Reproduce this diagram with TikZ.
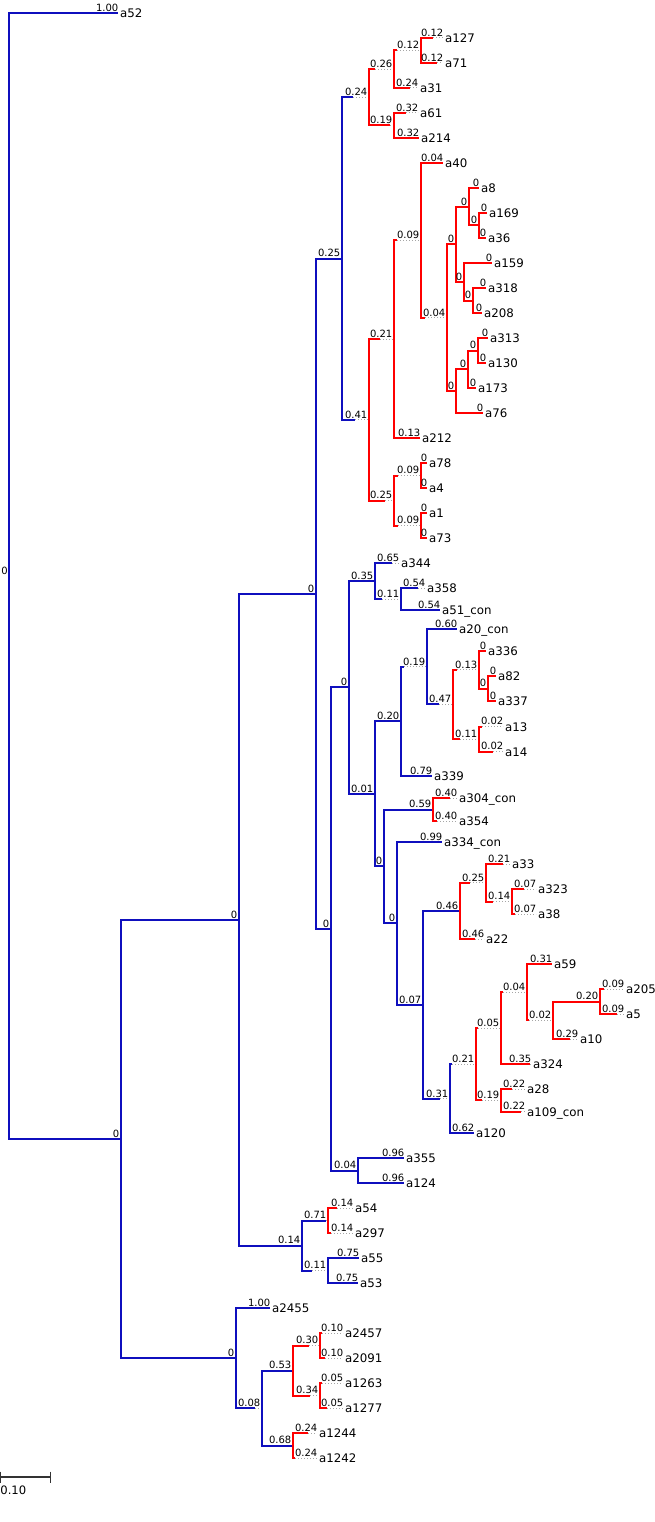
\documentclass[tikz,border=0pt]{standalone}
\usepackage{fontspec}
\setmainfont{DejaVu Sans}
\definecolor{treeblue}{RGB}{15,15,190}
\definecolor{treered}{RGB}{255,0,0}
\definecolor{scalegray}{RGB}{51,51,51}
\tikzset{
  blueedge/.style={draw=treeblue,line width=2pt,line join=miter},
  rededge/.style={draw=treered,line width=2pt,line join=miter},
  dotext/.style={draw=black!35,line width=1pt,dash pattern=on 1pt off 2pt},
  blabel/.style={inner sep=0pt,anchor=base east,font=\fontsize{10}{12}\selectfont},
  lname/.style={inner sep=0pt,anchor=base west,font=\fontsize{11.8}{14}\selectfont},
  scaleline/.style={draw=scalegray,line width=1.7pt},
  scaletick/.style={draw=scalegray,line width=1pt}
}
% inner clade: [style]{parent}{name}{solid end x}{node x}{y}{branch label}
\newcommand\clade[7][blueedge]{%
  \coordinate (#3) at (#5,#6);
  \coordinate (#3-s) at (#4,#6);
  \draw[#1] (#2) |- (#3-s);
  \draw[dotext] (#3-s) -- (#3);
  \node[blabel] (#3-l) at ([xshift=-1.5pt,yshift=1.6pt]#3) {#7};
}
% leaf: [style]{parent}{name}{solid end x}{end x}{y}{branch label}{leaf text}
\newcommand\leaf[8][blueedge]{%
  \coordinate (#3) at (#5,#6);
  \coordinate (#3-s) at (#4,#6);
  \draw[#1] (#2) |- (#3-s);
  \draw[dotext] (#3-s) -- (#3);
  \node[blabel] (#3-l) at ([xshift=0.5pt,yshift=1.6pt]#3) {#7};
  \node[lname] (#3-t) at ([xshift=2pt,yshift=-4.6pt]#3) {#8};
}
\begin{document}
\begin{tikzpicture}[x=1pt,y=-1pt]
\useasboundingbox (0,0) rectangle (655,1522);
\fill[white] (0,0) rectangle (655,1522);

% root
\coordinate (root) at (9,575.9);
\node[blabel] (root-l) at ([xshift=-1pt,yshift=1.6pt]root) {0};
\leaf{root}{a52}{118}{118}{13}{1.00}{a52}
\clade{root}{n1}{121}{121}{1138.8}{0}
\clade{n1}{n2}{239}{239}{919.65}{0}
\clade{n1}{nb}{236}{236}{1358}{0}
\clade{n2}{n3}{316}{316}{593.8}{0}
\clade{n2}{n49}{302}{302}{1245.5}{0.14}
\clade{n3}{n4}{342}{342}{258.6}{0.25}
\clade{n3}{nc}{331}{331}{928.97}{0}
\clade{n4}{n5}{353}{369}{97.4}{0.24}
\clade{n4}{n9}{355}{369}{419.8}{0.41}

% upper red group
\clade[rededge]{n5}{n6}{375}{394}{69.25}{0.26}
\clade[rededge]{n5}{n8}{390}{394}{125.5}{0.19}
\clade[rededge]{n6}{n7}{397}{421}{50.5}{0.12}
\leaf[rededge]{n6}{a31}{410}{418}{88}{0.24}{a31}
\leaf[rededge]{n7}{a127}{433}{443}{38}{0.12}{a127}
\leaf[rededge]{n7}{a71}{437}{443}{63}{0.12}{a71}
\leaf[rededge]{n8}{a61}{406}{418}{113}{0.32}{a61}
\leaf[rededge]{n8}{a214}{419}{419}{138}{0.32}{a214}

% second red group
\clade[rededge]{n9}{n10}{380}{394}{339.2}{0.21}
\clade[rededge]{n9}{n21}{385}{394}{500.5}{0.25}
\clade[rededge]{n10}{n11}{397}{421}{240.3}{0.09}
\leaf[rededge]{n10}{a212}{420}{420}{438}{0.13}{a212}
\leaf[rededge]{n11}{a40}{443}{443}{163}{0.04}{a40}
\clade[rededge]{n11}{n12}{425}{447}{317.7}{0.04}
\clade[rededge]{n12}{n13}{456}{456}{244.25}{0}
\clade[rededge]{n12}{n18}{456}{456}{391.1}{0}
\clade[rededge]{n13}{n14}{469}{469}{206.75}{0}
\clade[rededge]{n13}{n16}{464}{464}{281.75}{0}
\leaf[rededge]{n14}{a8}{479}{479}{188}{0}{a8}
\clade[rededge]{n14}{n15}{479}{479}{225.5}{0}
\leaf[rededge]{n15}{a169}{487}{487}{213}{0}{a169}
\leaf[rededge]{n15}{a36}{486}{486}{238}{0}{a36}
\leaf[rededge]{n16}{a159}{492}{492}{263}{0}{a159}
\clade[rededge]{n16}{n17}{473}{473}{300.5}{0}
\leaf[rededge]{n17}{a318}{486}{486}{288}{0}{a318}
\leaf[rededge]{n17}{a208}{482}{482}{313}{0}{a208}
\clade[rededge]{n18}{n19}{468}{468}{369.25}{0}
\leaf[rededge]{n18}{a76}{483}{483}{413}{0}{a76}
\clade[rededge]{n19}{n20}{478}{478}{350.5}{0}
\leaf[rededge]{n19}{a173}{476}{476}{388}{0}{a173}
\leaf[rededge]{n20}{a313}{488}{488}{338}{0}{a313}
\leaf[rededge]{n20}{a130}{486}{486}{363}{0}{a130}
\clade[rededge]{n21}{n22}{398}{421}{475.5}{0.09}
\clade[rededge]{n21}{n23}{398}{421}{525.5}{0.09}
\leaf[rededge]{n22}{a78}{427}{427}{463}{0}{a78}
\leaf[rededge]{n22}{a4}{427}{427}{488}{0}{a4}
\leaf[rededge]{n23}{a1}{427}{427}{513}{0}{a1}
\leaf[rededge]{n23}{a73}{427}{427}{538}{0}{a73}

% middle blue group
\clade{nc}{n25}{349}{349}{687.4}{0}
\clade{nc}{n48}{358}{358}{1170.5}{0.04}
\leaf{n48}{a355}{404}{404}{1158}{0.96}{a355}
\leaf{n48}{a124}{404}{404}{1183}{0.96}{a124}
\clade{n25}{n24}{375}{375}{581}{0.35}
\clade{n25}{n28}{375}{375}{793.9}{0.01}
\leaf{n24}{a344}{392}{399}{563}{0.65}{a344}
\clade{n24}{n26}{382}{401}{599}{0.11}
\leaf{n26}{a358}{418}{425}{588}{0.54}{a358}
\leaf{n26}{a51con}{440}{440}{610}{0.54}{a51\_con}
\clade{n28}{n27}{401}{401}{721.3}{0.20}
\clade{n28}{n34}{384}{384}{866.45}{0}
\clade{n27}{n29}{404}{427}{666.7}{0.19}
\leaf{n27}{a339}{432}{432}{776}{0.79}{a339}
\leaf{n29}{a20con}{457}{457}{629}{0.60}{a20\_con}
\clade{n29}{n30}{439}{453}{704.4}{0.47}
\clade[rededge]{n30}{n31}{457}{479}{669.75}{0.13}
\clade[rededge]{n30}{n33}{460}{479}{739}{0.11}
\leaf[rededge]{n31}{a336}{486}{486}{651}{0}{a336}
\clade[rededge]{n31}{n32}{488}{488}{688.5}{0}
\leaf[rededge]{n32}{a82}{496}{496}{676}{0}{a82}
\leaf[rededge]{n32}{a337}{496}{496}{701}{0}{a337}
\leaf[rededge]{n33}{a13}{482}{503}{726.5}{0.02}{a13}
\leaf[rededge]{n33}{a14}{493}{503}{751.5}{0.02}{a14}
\clade{n34}{n35}{433}{433}{809.5}{0.59}
\clade{n34}{n36}{397}{397}{923.4}{0}
\leaf[rededge]{n35}{a304con}{450}{457}{798}{0.40}{a304\_con}
\leaf[rededge]{n35}{a354}{437}{457}{821}{0.40}{a354}
\leaf{n36}{a334con}{442}{442}{842}{0.99}{a334\_con}
\clade{n36}{n37}{423}{423}{1004.8}{0.07}
\clade{n37}{n38}{459}{460}{910.9}{0.46}
\clade{n37}{n41}{440}{450}{1098.7}{0.31}
\clade[rededge]{n38}{n39}{470}{486}{882.75}{0.25}
\leaf[rededge]{n38}{a22}{475}{484}{939}{0.46}{a22}
\leaf[rededge]{n39}{a33}{503}{510}{864}{0.21}{a33}
\clade[rededge]{n39}{n40}{493}{512}{901.5}{0.14}
\leaf[rededge]{n40}{a323}{524}{536}{889}{0.07}{a323}
\leaf[rededge]{n40}{a38}{515}{536}{914}{0.07}{a38}
\clade{n41}{n42}{452}{476}{1064.2}{0.21}
\leaf{n41}{a120}{474}{474}{1133.3}{0.62}{a120}
\clade[rededge]{n42}{n43}{478}{501}{1028.06}{0.05}
\clade[rededge]{n42}{n47}{482}{501}{1100.25}{0.19}
\clade[rededge]{n43}{n44}{503}{527}{992.1}{0.04}
\leaf[rededge]{n43}{a324}{530}{531}{1064}{0.35}{a324}
\leaf[rededge]{n44}{a59}{552}{552}{964}{0.31}{a59}
\clade[rededge]{n44}{n45}{529}{553}{1020.25}{0.02}
\clade[rededge]{n45}{n46}{600}{600}{1001.5}{0.20}
\leaf[rededge]{n45}{a10}{570}{578}{1039}{0.29}{a10}
\leaf[rededge]{n46}{a205}{604}{624}{989}{0.09}{a205}
\leaf[rededge]{n46}{a5}{617}{624}{1014}{0.09}{a5}
\leaf[rededge]{n47}{a28}{512}{525}{1089}{0.22}{a28}
\leaf[rededge]{n47}{a109con}{521}{525}{1111.5}{0.22}{a109\_con}

% lower groups
\clade{n49}{n50}{326}{328}{1220.5}{0.71}
\clade{n49}{n51}{312}{328}{1270.5}{0.11}
\leaf[rededge]{n50}{a54}{337}{353}{1208}{0.14}{a54}
\leaf[rededge]{n50}{a297}{331}{353}{1233}{0.14}{a297}
\leaf{n51}{a55}{359}{359}{1258}{0.75}{a55}
\leaf{n51}{a53}{358}{358}{1283}{0.75}{a53}

\leaf{nb}{a2455}{270}{270}{1308}{1.00}{a2455}
\clade{nb}{n52}{255}{262}{1408}{0.08}
\clade{n52}{n53}{293}{293}{1370.5}{0.53}
\clade{n52}{n56}{293}{293}{1445.5}{0.68}
\clade[rededge]{n53}{n54}{309}{320}{1345.5}{0.30}
\clade[rededge]{n53}{n55}{310}{320}{1395.5}{0.34}
\leaf[rededge]{n54}{a2457}{322}{343}{1333}{0.10}{a2457}
\leaf[rededge]{n54}{a2091}{325}{343}{1358}{0.10}{a2091}
\leaf[rededge]{n55}{a1263}{322}{343}{1383}{0.05}{a1263}
\leaf[rededge]{n55}{a1277}{327}{343}{1408}{0.05}{a1277}
\leaf[rededge]{n56}{a1244}{308}{317}{1433}{0.24}{a1244}
\leaf[rededge]{n56}{a1242}{295}{317}{1458}{0.24}{a1242}

% scale bar
\coordinate (sbl) at (0.8,1476.7);
\coordinate (sbr) at (50,1476.7);
\draw[scaleline] (sbl) -- (sbr);
\draw[scaletick] ([yshift=5pt]sbl) -- ([yshift=-6pt]sbl);
\draw[scaletick] ([yshift=5pt]sbr) -- ([yshift=-6pt]sbr);
\node[lname,font=\fontsize{11.6}{14}\selectfont] (sbtext) at (0.2,1494.5) {0.10};
\end{tikzpicture}
\end{document}
